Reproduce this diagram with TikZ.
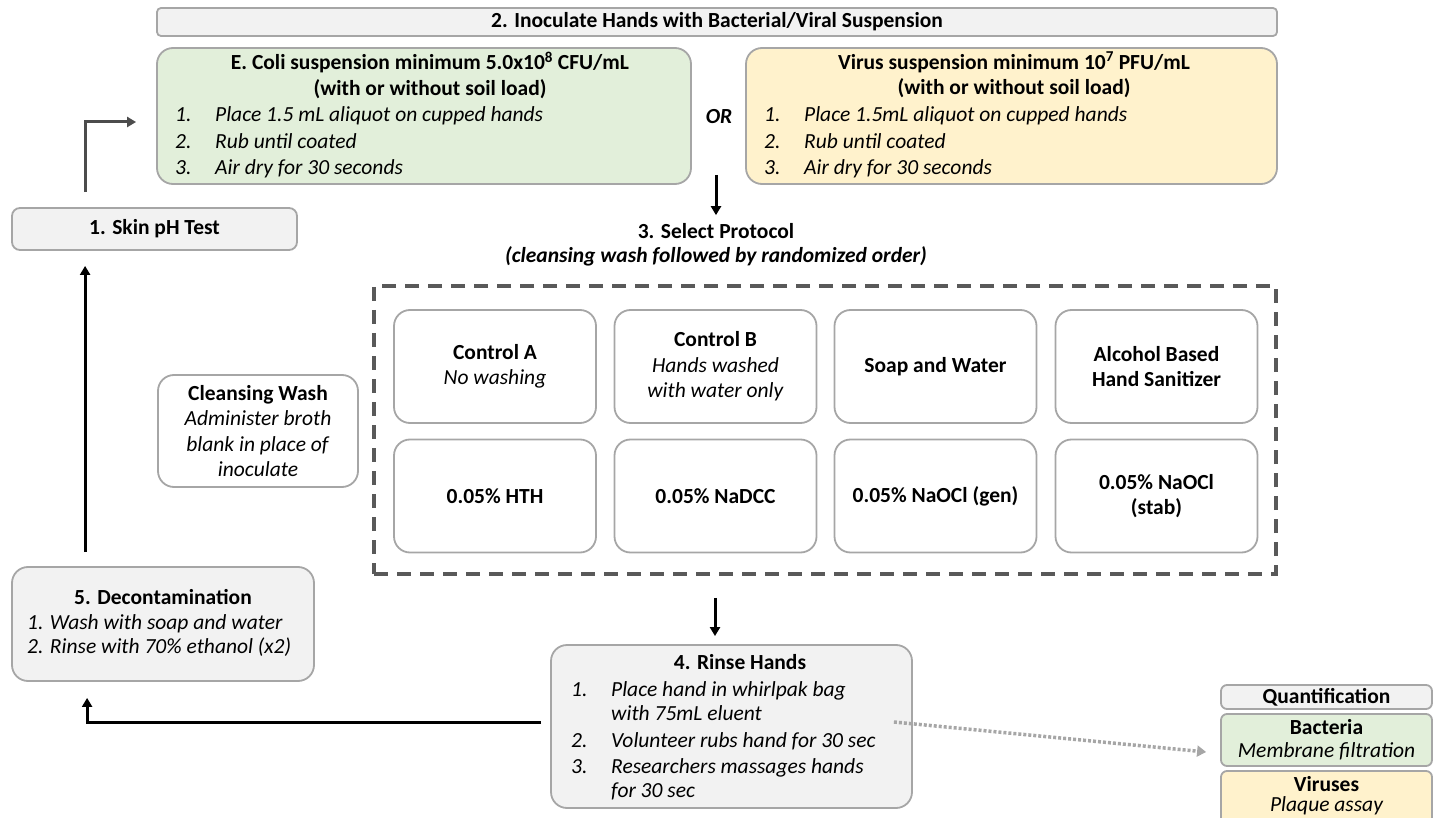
\documentclass[tikz,border=0pt]{standalone}
\usepackage{fontspec}
\setmainfont{Carlito}
\usetikzlibrary{arrows.meta,calc}
\definecolor{boxgray}{HTML}{F2F2F2}
\definecolor{edgegray}{HTML}{A6A6A6}
\definecolor{lgreen}{HTML}{E2EFDA}
\definecolor{lyellow}{HTML}{FFF2CC}
\definecolor{dashgray}{HTML}{595959}
\newcommand\myfs{\fontsize{21.5}{25.5}\selectfont}
\begin{document}
\begin{tikzpicture}[x=1pt,y=-1pt,
  box/.style={draw=edgegray, line width=1.8pt, rounded corners=16pt, inner sep=0pt, align=center, font=\myfs},
  graybox/.style={box, fill=boxgray},
  greenbox/.style={box, fill=lgreen},
  yellowbox/.style={box, fill=lyellow},
  whitebox/.style={box, fill=white, minimum width=202pt, minimum height=113pt},
  smallbox/.style={box, rounded corners=6pt},
  txt/.style={inner sep=0pt, font=\myfs, align=center},
  ltxt/.style={inner sep=0pt, font=\myfs\itshape, anchor=base west},
  arrow/.style={line width=3pt, -{Triangle[length=9pt,width=10pt]}},
  dotarrow/.style={edgegray, line width=3.5pt, dash pattern=on 3pt off 2pt, -{Triangle[length=9pt,width=11pt]}},
  dashbox/.style={draw=dashgray, line width=3.5pt, dash pattern=on 14pt off 9pt, inner sep=0pt}
]
\useasboundingbox (0,0) rectangle (1438,818);

% banner
\node[graybox, rounded corners=4pt, minimum width=1120pt, minimum height=28pt, font=\myfs\bfseries] (banner) at (717,22) {2. Inoculate Hands with Bacterial/Viral Suspension};

% E. coli box
\node[greenbox, minimum width=534pt, minimum height=136pt] (ecoli) at (424,116) {};
\node[txt, font=\myfs\bfseries] (ecT) at (430,75) {E. Coli suspension minimum 5.0x10\textsuperscript{8} CFU/mL\\(with or without soil load)};
\node[ltxt] (ec1n) at (175,122) {1.};
\node[ltxt] (ec1) at (215,122) {Place 1.5 mL aliquot on cupped hands};
\node[ltxt] (ec2n) at (175,149) {2.};
\node[ltxt] (ec2) at (215,149) {Rub until coated};
\node[ltxt] (ec3n) at (175,175) {3.};
\node[ltxt] (ec3) at (215,175) {Air dry for 30 seconds};

% OR
\node[txt, font=\myfs\bfseries\itshape] (or) at (719,117) {OR};

% Virus box
\node[yellowbox, minimum width=531pt, minimum height=136pt] (virus) at (1011.5,116) {};
\node[txt, font=\myfs\bfseries] (viT) at (1014,75) {Virus suspension minimum 10\textsuperscript{7} PFU/mL\\(with or without soil load)};
\node[ltxt] (vi1n) at (764,122) {1.};
\node[ltxt] (vi1) at (804,122) {Place 1.5mL aliquot on cupped hands};
\node[ltxt] (vi2n) at (764,149) {2.};
\node[ltxt] (vi2) at (804,149) {Rub until coated};
\node[ltxt] (vi3n) at (764,175) {3.};
\node[ltxt] (vi3) at (804,175) {Air dry for 30 seconds};

% select protocol
\coordinate (selin) at (716,175);
\node[txt, font=\myfs\bfseries] (sel) at (716,231) {3. Select Protocol};
\node[txt, font=\myfs\bfseries\itshape] (selsub) at (716,256) {(cleansing wash followed by randomized order)};

% skin pH
\node[graybox, rounded corners=8pt, minimum width=285pt, minimum height=42pt, font=\myfs\bfseries] (skin) at (154.5,229) {1. Skin pH Test};

% cleansing wash
\node[box, fill=white, minimum width=200pt, minimum height=112pt] (cleanse) at (258,431) {\textbf{Cleansing Wash}\\\textit{Administer broth}\\\textit{blank in place of}\\\textit{inoculate}};

% dashed group
\node[dashbox, minimum width=902pt, minimum height=288pt] (grp) at (825,430) {};

% grid
\node[whitebox] (ca) at (495,366.5) {\textbf{Control A}\\\textit{No washing}};
\node[whitebox] (cb) at (715.5,366.5) {\textbf{Control B}\\\textit{Hands washed}\\\textit{with water only}};
\node[whitebox, font=\myfs\bfseries] (sw) at (935.5,366.5) {Soap and Water};
\node[whitebox, font=\myfs\bfseries] (ab) at (1156.5,366.5) {Alcohol Based\\Hand Sanitizer};
\node[whitebox, font=\myfs\bfseries] (hth) at (495,496) {0.05\% HTH};
\node[whitebox, font=\myfs\bfseries] (nadcc) at (715.5,496) {0.05\% NaDCC};
\node[whitebox, font=\myfs\bfseries] (gen) at (935.5,496) {0.05\% NaOCl (gen)};
\node[whitebox, font=\myfs\bfseries] (stab) at (1156.5,496) {0.05\% NaOCl\\(stab)};

% decontamination
\node[graybox, minimum width=302pt, minimum height=114pt] (decon) at (163,624) {};
\node[txt, font=\myfs\bfseries] (deT) at (163,597) {5. Decontamination};
\node[ltxt] (de1) at (27,629) {1. Wash with soap and water};
\node[ltxt] (de2) at (27,653) {2. Rinse with 70\% ethanol (x2)};

% rinse hands
\node[graybox, minimum width=361pt, minimum height=163pt] (rinse) at (731.5,726.5) {};
\node[txt, font=\myfs\bfseries] (riT) at (740,662) {4. Rinse Hands};
\node[ltxt] (ri1n) at (571,696) {1.};
\node[ltxt] (ri1) at (611,696) {Place hand in whirlpak bag};
\node[ltxt] (ri1b) at (611,720) {with 75mL eluent};
\node[ltxt] (ri2n) at (571,747) {2.};
\node[ltxt] (ri2) at (611,747) {Volunteer rubs hand for 30 sec};
\node[ltxt] (ri3n) at (571,773) {3.};
\node[ltxt] (ri3) at (611,773) {Researchers massages hands};
\node[ltxt] (ri3b) at (611,797) {for 30 sec};

% quantification
\node[graybox, smallbox, fill=boxgray, minimum width=211pt, minimum height=24pt, font=\myfs\bfseries] (quant) at (1326.5,697) {Quantification};
\node[greenbox, smallbox, minimum width=211pt, minimum height=52pt] (bact) at (1326.5,740) {};
\node[txt, font=\myfs\bfseries] (bactT) at (1326.5,727) {Bacteria};
\node[txt, font=\myfs\itshape] (bactS) at (1326.5,751) {Membrane filtration};
\node[yellowbox, smallbox, minimum width=211pt, minimum height=60pt] (vir) at (1326.5,801) {};
\node[txt, font=\myfs\bfseries] (virT) at (1326.5,784) {Viruses};
\node[txt, font=\myfs\itshape] (virS) at (1326.5,806) {Plaque assay};

% connectors
\draw[arrow, draw=black!70] ($(skin.north west)+(74,-15)$) |- ($(ecoli.west)+(-20,6)$);
\draw[arrow] (selin) -- ($(sel.north)+(0,-8)$);
\draw[arrow] ($(decon.north west)+(74,-14)$) -- ($(skin.south west)+(74,15)$);
\draw[arrow] ($(grp.south)+(-110,22)$) -- ($(rinse.north)+(-16.5,-8)$);
\draw[arrow] ($(rinse.west)+(-9,-4.5)$) -| ($(decon.south west)+(76,16)$);
\draw[dotarrow] ($(rinse.east)+(-19,-4.5)$) -- ($(bact.west)+(-14,12)$);
\end{tikzpicture}
\end{document}
